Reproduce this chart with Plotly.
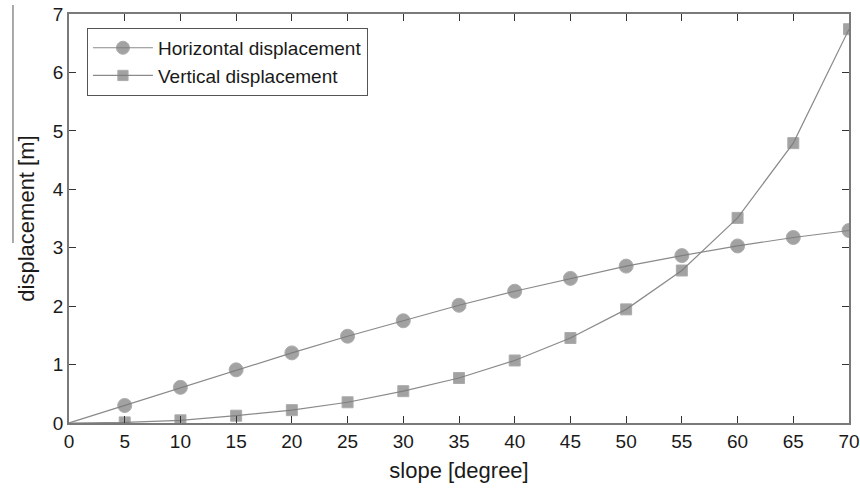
import plotly.graph_objects as go

slope = [0, 5, 10, 15, 20, 25, 30, 35, 40, 45, 50, 55, 60, 65, 70]
horizontal = [0, 0.30, 0.61, 0.91, 1.20, 1.485, 1.75, 2.015, 2.255, 2.475, 2.685, 2.865, 3.03, 3.175, 3.295]
vertical = [0, 0.01, 0.046, 0.125, 0.22, 0.355, 0.545, 0.77, 1.07, 1.455, 1.945, 2.61, 3.51, 4.79, 6.74]
x_ticks = [0, 5, 10, 15, 20, 25, 30, 35, 40, 45, 50, 55, 60, 65, 70]
y_ticks = [0, 1, 2, 3, 4, 5, 6, 7]

FONT = "Liberation Sans, Arial, sans-serif"
MARK = "#7b7b7b"
LINE = "#8a8a8a"


def sizes(n, s):
    # hide the marker at the origin point, as in the reference
    return [0] + [s] * (n - 1)


fig = go.Figure()
fig.add_trace(go.Scatter(
    x=slope, y=horizontal, mode="lines+markers", name="Horizontal displacement",
    line=dict(color=LINE, width=1.2),
    marker=dict(symbol="circle", size=sizes(len(slope), 14), color=MARK),
))
fig.add_trace(go.Scatter(
    x=slope, y=vertical, mode="lines+markers", name="Vertical displacement",
    line=dict(color=LINE, width=1.2),
    marker=dict(symbol="square", size=sizes(len(slope), 11), color=MARK),
))

axis_common = dict(
    showline=True, linecolor="#7a7a7a", linewidth=1.5, mirror="ticks",
    ticks="inside", ticklen=7, tickwidth=1, tickcolor="#333",
    showgrid=False, zeroline=False, automargin=False,
    tickfont=dict(family=FONT, size=19, color="#1a1a1a"),
)

fig.update_xaxes(
    range=[0, 70], tickvals=x_ticks, ticktext=[str(v) for v in x_ticks],
    title=dict(text="slope [degree]", font=dict(family=FONT, size=22, color="#1a1a1a"), standoff=12),
    **axis_common,
)
fig.update_yaxes(
    range=[0, 7], tickvals=y_ticks, ticktext=[str(v) for v in y_ticks],
    title=dict(text="displacement [m]", font=dict(family=FONT, size=22, color="#1a1a1a"), standoff=12),
    **axis_common,
)

fig.add_shape(type="line", xref="paper", yref="paper",
              x0=-0.0718, x1=-0.0718, y0=1.022, y1=0.44,
              line=dict(color="#555", width=1))

fig.update_layout(
    width=860, height=488,
    margin=dict(l=69, r=11, t=14, b=65),
    paper_bgcolor="white", plot_bgcolor="white",
    font=dict(family=FONT, color="#1a1a1a"),
    showlegend=True,
    legend=dict(
        x=0.023, y=0.966, xanchor="left", yanchor="top",
        bgcolor="white", bordercolor="#555", borderwidth=1,
        font=dict(family=FONT, size=19, color="#1a1a1a"),
        itemwidth=60, tracegroupgap=0,
    ),
)

fig.write_html(
    "out.html",
    config={"displayModeBar": False},
    post_script="document.body.style.margin='0';document.body.style.overflow='hidden';",
)
